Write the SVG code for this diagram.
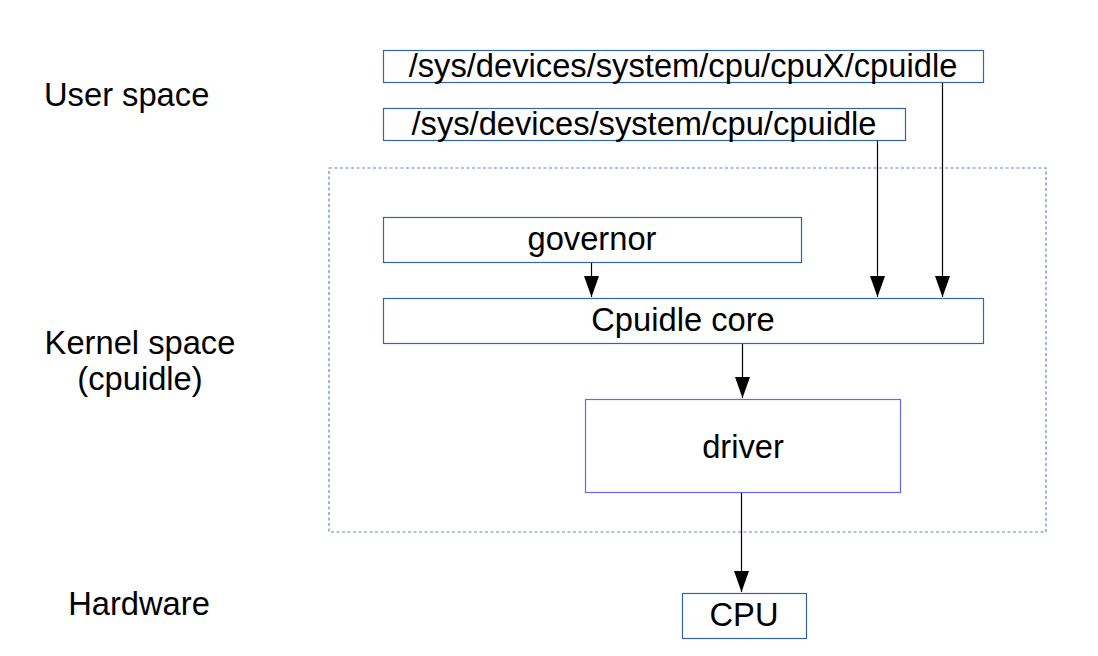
<svg xmlns="http://www.w3.org/2000/svg" width="1098" height="656" viewBox="0 0 1098 656">
<style>
text{font-family:"Liberation Sans",Arial,sans-serif;font-size:32.7px;fill:#000}
.c{text-anchor:middle}
.box{fill:#fff;stroke:#3465a4;stroke-width:1.2}
.drv{fill:#fff;stroke:#6666ff;stroke-width:1.2}
.con{stroke:#000;stroke-width:1.2;fill:none;marker-end:url(#ah)}
</style>
<defs>
<marker id="ah" markerUnits="userSpaceOnUse" markerWidth="22" markerHeight="16" refX="21" refY="7.5" orient="auto">
<path d="M0,0 L21,7.5 L0,15 Z" fill="#000"/>
</marker>
</defs>
<rect width="1098" height="656" fill="#fff"/>
<g id="labels">
<text x="44" y="106">User space</text>
<text class="c" x="140" y="354">Kernel space</text>
<text class="c" x="140" y="390">(cpuidle)</text>
<text class="c" x="139" y="615">Hardware</text>
</g>
<g id="kernel-area">
<rect x="329" y="168" width="717" height="364" fill="none" stroke="#5a8ac6" stroke-width="1.2" stroke-dasharray="3 2.5"/>
</g>
<g id="sys-cpuX">
<rect class="box" x="383.5" y="50.5" width="600" height="32"/>
<text class="c" x="683" y="77">/sys/devices/system/cpu/cpuX/cpuidle</text>
</g>
<g id="sys-cpu">
<rect class="box" x="383.5" y="108.5" width="522" height="32"/>
<text class="c" x="644" y="135">/sys/devices/system/cpu/cpuidle</text>
</g>
<g id="governor">
<rect class="box" x="383.5" y="217.5" width="418" height="45"/>
<text class="c" x="592" y="250">governor</text>
</g>
<g id="core">
<rect class="box" x="383.5" y="298.5" width="600" height="45"/>
<text class="c" x="683" y="331">Cpuidle core</text>
</g>
<g id="driver">
<rect class="drv" x="585.5" y="399.5" width="315" height="93"/>
<text class="c" x="743" y="458">driver</text>
</g>
<g id="cpu">
<rect class="box" x="682.5" y="593.5" width="124" height="45"/>
<text class="c" x="744" y="626">CPU</text>
</g>
<g id="connectors">
<line class="con" x1="591.5" y1="263" x2="591.5" y2="297"/>
<line class="con" x1="877.5" y1="141" x2="877.5" y2="297"/>
<line class="con" x1="942.5" y1="83" x2="942.5" y2="297"/>
<line class="con" x1="742.5" y1="344" x2="742.5" y2="398"/>
<line class="con" x1="741.5" y1="493" x2="741.5" y2="592"/>
</g>
</svg>
